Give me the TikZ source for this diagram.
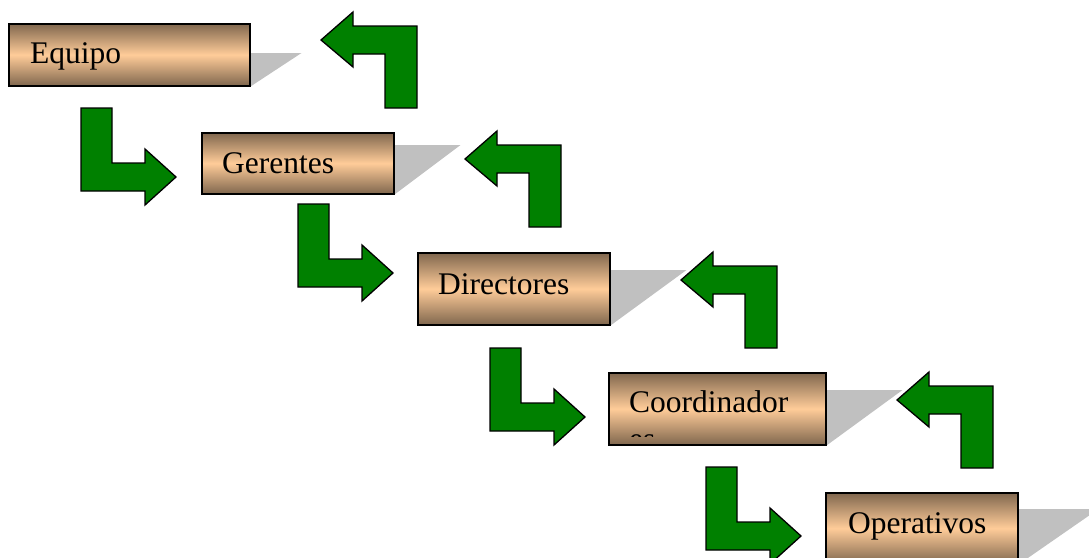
\documentclass[tikz,border=0pt]{standalone}
\usepackage{fontspec}
\setmainfont{Liberation Serif}
\usetikzlibrary{calc}

\definecolor{boxdark}{RGB}{128,103,78}
\definecolor{boxlight}{RGB}{255,204,153}
\definecolor{shadowgray}{RGB}{192,192,192}
\definecolor{arrowgreen}{RGB}{0,128,0}

\pgfdeclarelayer{shadows}
\pgfsetlayers{shadows,main}

\tikzset{
  stage/.style={draw=black, line width=1.5pt, top color=boxdark, bottom color=boxdark,
                middle color=boxlight, anchor=north west, inner sep=0pt, minimum height=#1},
  stage/.default=72pt,
  lbl/.style={anchor=base west, inner sep=0pt, font=\fontsize{31.5}{37}\selectfont},
  dropshade/.style={fill=shadowgray},
  blockarrow/.style={draw=black, line width=1.3pt, fill=arrowgreen, line join=miter},
  % bent arrow pointing left, tip at the pic origin
  uparrowshape/.pic={
    \draw[blockarrow] (0,0) -- (32,-28) -- (32,-14) -- (96,-14) -- (96,68)
      -- (64,68) -- (64,14) -- (32,14) -- (32,27) -- cycle;
  },
  % bent arrow pointing right, tip at the pic origin
  downarrowshape/.pic={
    \draw[blockarrow] (0,0) -- (-31,-28) -- (-31,-14) -- (-64,-14) -- (-64,-69)
      -- (-95,-69) -- (-95,14) -- (-31,14) -- (-31,28) -- cycle;
  }
}

\begin{document}
\begin{tikzpicture}[x=1pt, y=-1pt]
  \useasboundingbox (0,0) rectangle (1089,557);
  \clip (0,0) rectangle (1089,557);

  % boxes
  \path (8,23)    node[stage=62pt, minimum width=241pt] (equipo) {};
  \path (201,132) node[stage=61pt, minimum width=192pt] (gerentes) {};
  \path (417,252) node[stage=72pt, minimum width=192pt] (directores) {};
  \path (608,372) node[stage=72pt, minimum width=217pt] (coord) {};
  \path (825,492) node[stage=71pt, minimum width=192pt] (operativos) {};

  % shadows behind the boxes
  \begin{pgfonlayer}{shadows}
    \fill[dropshade] ($(equipo.north east)+(0,30)$) -- ++(51,0) -- (equipo.south east) -- cycle;
    \fill[dropshade] ($(gerentes.north east)+(0,13)$) -- ++(66,0) -- (gerentes.south east) -- cycle;
    \fill[dropshade] ($(directores.north east)+(0,18)$) -- ++(76,0) -- (directores.south east) -- cycle;
    \fill[dropshade] ($(coord.north east)+(0,18)$) -- ++(76,0) -- (coord.south east) -- cycle;
    \fill[dropshade] ($(operativos.north east)+(0,17)$) -- ++(80,0) -- (operativos.south east) -- cycle;
  \end{pgfonlayer}

  % labels
  \node[lbl] (equipo-t)     at ($(equipo.north west)+(22,40)$)     {Equipo};
  \node[lbl] (gerentes-t)   at ($(gerentes.north west)+(21,41)$)   {Gerentes};
  \node[lbl] (directores-t) at ($(directores.north west)+(21,42)$) {Directores};
  \node[lbl] (coord-t)      at ($(coord.north west)+(21,40)$)      {Coordinador};
  \node[lbl] (operativos-t) at ($(operativos.north west)+(23,41)$) {Operativos};
  % second line of the coordinator label, cut off by the text frame
  \begin{scope}
    \clip (coord.north west) rectangle ($(coord.north east)+(0,64)$);
    \node[lbl] (coord-t2) at ($(coord.north west)+(21,77.5)$) {es};
  \end{scope}

  % arrows going back up
  \pic at (321,40)  {uparrowshape};
  \pic at (465,159) {uparrowshape};
  \pic at (681,280) {uparrowshape};
  \pic at (897,400) {uparrowshape};

  % arrows going down
  \pic at (176,177) {downarrowshape};
  \pic at (393,273) {downarrowshape};
  \pic at (585,417) {downarrowshape};
  \pic at (801,536) {downarrowshape};
\end{tikzpicture}
\end{document}
